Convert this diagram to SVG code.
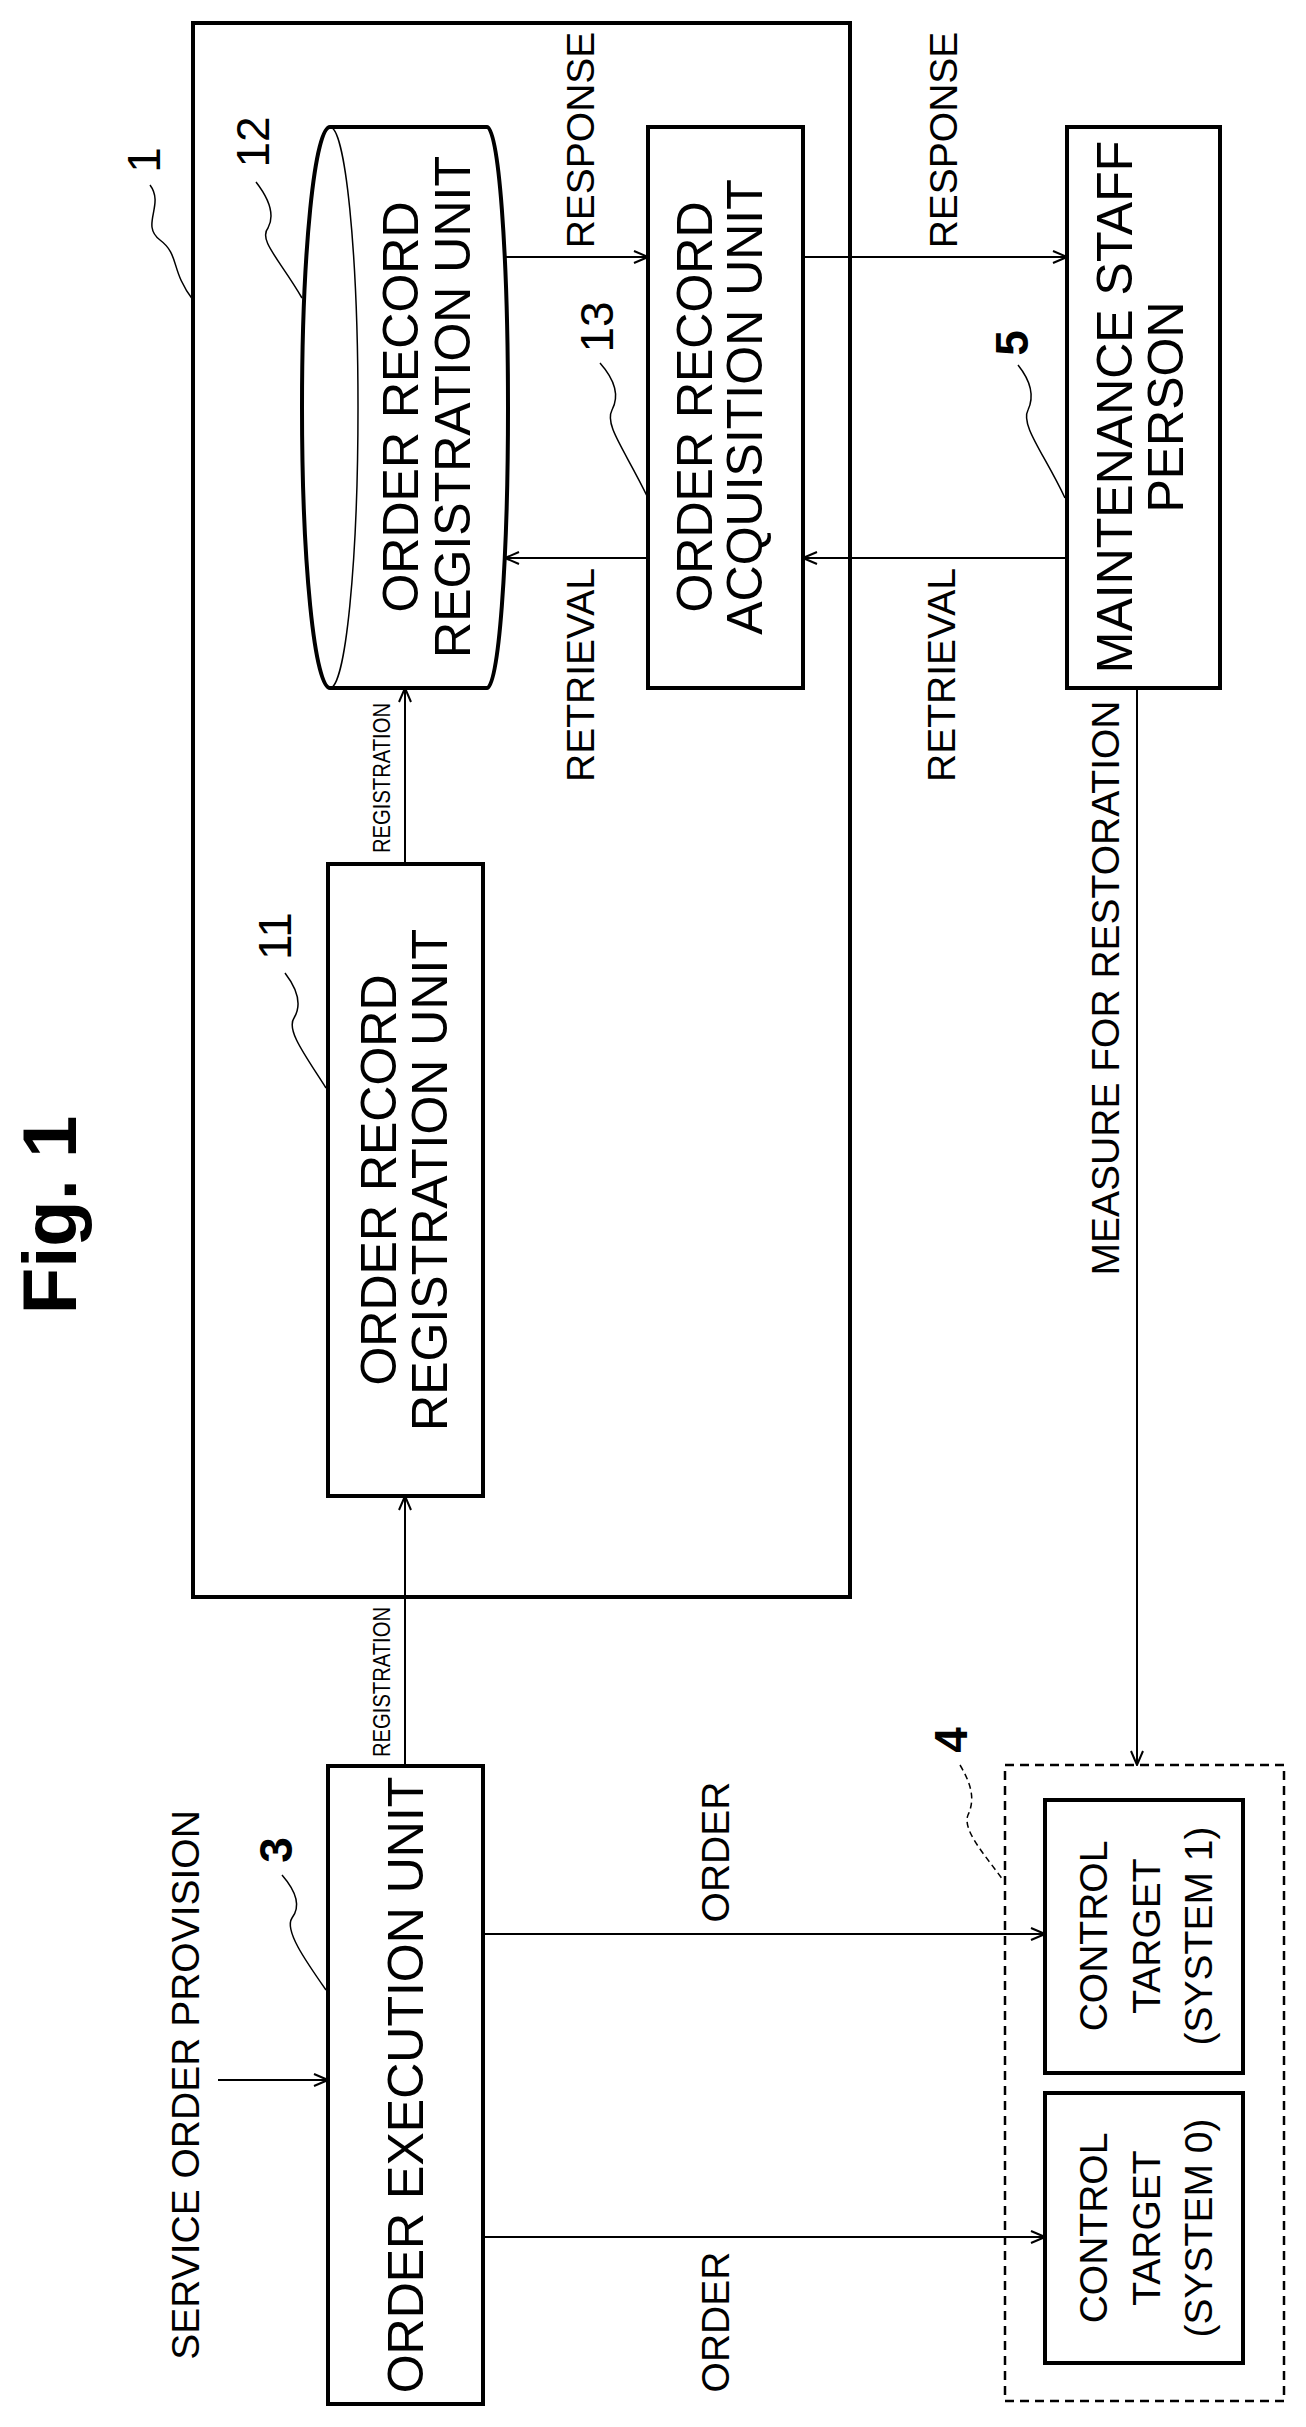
<svg xmlns="http://www.w3.org/2000/svg" width="1306" height="2427" viewBox="0 0 1306 2427">
<style>
.box{fill:none;stroke:#000;stroke-width:4}
.con{fill:none;stroke:#000;stroke-width:2}
.lead{fill:none;stroke:#000;stroke-width:1.5}
.t{font-family:"Liberation Sans",Arial,sans-serif;font-size:50px;fill:#000;text-anchor:middle}
.l{font-family:"Liberation Sans",Arial,sans-serif;font-size:39px;fill:#000;text-anchor:middle}
.s{font-family:"Liberation Sans",Arial,sans-serif;font-size:24px;fill:#000;text-anchor:middle}
.n{font-family:"Liberation Sans",Arial,sans-serif;font-size:46px;fill:#000;text-anchor:middle}
</style>
<defs>
<marker id="ah" markerWidth="16" markerHeight="14" refX="15" refY="7" orient="auto" markerUnits="userSpaceOnUse">
<path d="M1,1 L15,7 L1,13" fill="none" stroke="#000" stroke-width="2"/>
</marker>
</defs>
<rect width="1306" height="2427" fill="#fff"/>
<text class="t" style="font-weight:bold;font-size:76px" transform="translate(76,1215) rotate(-90)">Fig. 1</text>

<g id="system1">
<rect class="box" x="193" y="23" width="657" height="1574"/>
<text class="n" transform="translate(160,160) rotate(-90)">1</text>
<path class="lead" d="M150,185 C165,205 140,225 160,240 C180,255 170,270 193,300"/>
</g>
<g id="unit12">
<path class="box" d="M330,127 L487,127 A21,280.5 0 0 1 487,688 L330,688 A28,280.5 0 0 1 330,127 Z"/>
<path class="lead" d="M330,127 A28,280.5 0 0 1 330,688"/>
<text class="t" transform="translate(418,407) rotate(-90)">ORDER RECORD</text>
<text class="t" transform="translate(470,407) rotate(-90)">REGISTRATION UNIT</text>
<text class="n" transform="translate(269,142) rotate(-90)">12</text>
<path class="lead" d="M256,182 C270,200 275,215 268,228 C258,240 280,260 302,298"/>
</g>
<g id="unit13">
<rect class="box" x="648" y="127" width="155" height="561"/>
<text class="t" transform="translate(712,407) rotate(-90)">ORDER RECORD</text>
<text class="t" transform="translate(762,407) rotate(-90)">ACQUISITION UNIT</text>
<text class="n" transform="translate(613,327) rotate(-90)">13</text>
<path class="lead" d="M600,363 C615,380 620,395 612,410 C604,425 625,450 648,498"/>
</g>
<g id="staff5">
<rect class="box" x="1067" y="127" width="153" height="561"/>
<text class="t" transform="translate(1132,407) rotate(-90)">MAINTENANCE STAFF</text>
<text class="t" transform="translate(1183,407) rotate(-90)">PERSON</text>
<text class="n" style="font-weight:bold" transform="translate(1028,343) rotate(-90)">5</text>
<path class="lead" d="M1018,365 C1030,380 1035,395 1028,410 C1020,425 1045,455 1065,498"/>
</g>
<g id="unit11">
<rect class="box" x="328" y="864" width="155" height="632"/>
<text class="t" transform="translate(396,1180) rotate(-90)">ORDER RECORD</text>
<text class="t" transform="translate(447,1180) rotate(-90)">REGISTRATION UNIT</text>
<text class="n" transform="translate(291,936) rotate(-90)">11</text>
<path class="lead" d="M285,973 C298,990 302,1005 294,1018 C286,1030 305,1055 326,1088"/>
</g>
<g id="unit3">
<rect class="box" x="328" y="1766" width="155" height="638"/>
<text class="t" transform="translate(423,2085) rotate(-90)">ORDER EXECUTION UNIT</text>
<text class="n" style="font-weight:bold" transform="translate(292,1850) rotate(-90)">3</text>
<path class="lead" d="M282,1875 C295,1890 302,1905 292,1918 C284,1930 305,1960 326,1990"/>
</g>
<g id="target4">
<rect x="1005" y="1765" width="279" height="636" fill="none" stroke="#000" stroke-width="2.5" stroke-dasharray="9,6"/>
<text class="n" style="font-weight:bold" transform="translate(967,1740) rotate(-90)">4</text>
<path d="M960,1765 C972,1785 975,1800 968,1815 C962,1830 985,1855 1003,1880" fill="none" stroke="#000" stroke-width="1.5" stroke-dasharray="6,4"/>
</g>
<g id="target1">
<rect class="box" x="1045" y="1800" width="198" height="273"/>
<text class="l" transform="translate(1107,1936) rotate(-90)">CONTROL</text>
<text class="l" transform="translate(1160,1936) rotate(-90)">TARGET</text>
<text class="l" transform="translate(1212,1936) rotate(-90)">(SYSTEM 1)</text>
</g>
<g id="target0">
<rect class="box" x="1045" y="2093" width="198" height="270"/>
<text class="l" transform="translate(1107,2228) rotate(-90)">CONTROL</text>
<text class="l" transform="translate(1160,2228) rotate(-90)">TARGET</text>
<text class="l" transform="translate(1212,2228) rotate(-90)">(SYSTEM 0)</text>
</g>

<g id="connectors">
<line class="con" x1="505" y1="257" x2="648" y2="257" marker-end="url(#ah)"/>
<line class="con" x1="648" y1="558" x2="505" y2="558" marker-end="url(#ah)"/>
<line class="con" x1="803" y1="257" x2="1067" y2="257" marker-end="url(#ah)"/>
<line class="con" x1="1067" y1="558" x2="803" y2="558" marker-end="url(#ah)"/>
<line class="con" x1="405" y1="864" x2="405" y2="688" marker-end="url(#ah)"/>
<line class="con" x1="405" y1="1766" x2="405" y2="1496" marker-end="url(#ah)"/>
<line class="con" x1="1137" y1="688" x2="1137" y2="1765" marker-end="url(#ah)"/>
<line class="con" x1="218" y1="2080" x2="328" y2="2080" marker-end="url(#ah)"/>
<line class="con" x1="483" y1="1934" x2="1045" y2="1934" marker-end="url(#ah)"/>
<line class="con" x1="483" y1="2237" x2="1045" y2="2237" marker-end="url(#ah)"/>
<text class="l" transform="translate(594,140) rotate(-90)">RESPONSE</text>
<text class="l" transform="translate(957,140) rotate(-90)">RESPONSE</text>
<text class="l" transform="translate(594,675) rotate(-90)">RETRIEVAL</text>
<text class="l" transform="translate(955,675) rotate(-90)">RETRIEVAL</text>
<text class="l" transform="translate(1119,988) rotate(-90)">MEASURE FOR RESTORATION</text>
<text class="s" textLength="150" lengthAdjust="spacingAndGlyphs" transform="translate(390,778) rotate(-90)">REGISTRATION</text>
<text class="s" textLength="150" lengthAdjust="spacingAndGlyphs" transform="translate(390,1682) rotate(-90)">REGISTRATION</text>
<text class="l" transform="translate(199,2085) rotate(-90)">SERVICE ORDER PROVISION</text>
<text class="l" transform="translate(729,1852) rotate(-90)">ORDER</text>
<text class="l" transform="translate(729,2322) rotate(-90)">ORDER</text>
</g>
</svg>
